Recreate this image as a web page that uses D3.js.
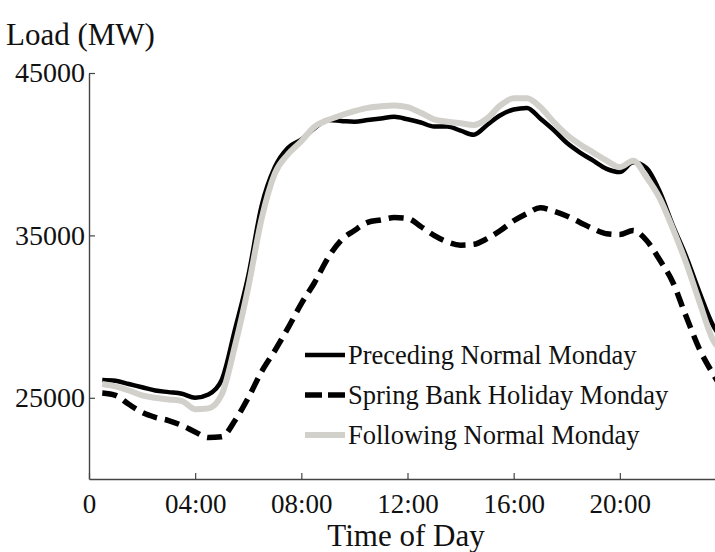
<!DOCTYPE html>
<html>
<head>
<meta charset="utf-8">
<script src="https://cdn.jsdelivr.net/npm/d3@7"></script>
<style>
  html, body { margin: 0; padding: 0; background: #fff; }
  svg { display: block; }
  text { font-family: "Liberation Serif", "Times New Roman", serif; fill: #111; }
</style>
</head>
<body>
<svg id="chart" width="715" height="552"></svg>
<script>
// Half-hourly sample times (hours after midnight)
const hours = [0.5, 1, 1.5, 2, 2.5, 3, 3.5, 4, 4.5, 5, 5.5, 6, 6.5, 7, 7.5, 8,
  8.5, 9, 9.5, 10, 10.5, 11, 11.5, 12, 12.5, 13, 13.5, 14, 14.5, 15, 15.5, 16,
  16.5, 17, 17.5, 18, 18.5, 19, 19.5, 20, 20.5, 21, 21.5, 22, 22.5, 23, 23.5, 24];

// Load (MW) per half hour
const precedingMonday = [26100, 26050, 25850, 25650, 25450, 25350, 25250, 25000,
  25200, 26100, 29200, 32500, 36800, 39200, 40400, 40900,
  41600, 42100, 42050, 42000, 42100, 42200, 42300, 42150,
  41950, 41700, 41700, 41450, 41200, 41800, 42400, 42750,
  42850, 42200, 41500, 40700, 40100, 39600, 39100, 38900,
  39500, 39150, 37700, 35600, 33700, 31500, 29500, 28300];

const holidayMonday = [25300, 25150, 24600, 24100, 23800, 23600, 23300, 22900,
  22550, 22600, 23600, 25000, 26600, 27900, 29300, 30800,
  32100, 33600, 34700, 35300, 35800, 35950, 36100, 36050,
  35550, 35000, 34600, 34400, 34450, 34800, 35300, 35900,
  36350, 36700, 36500, 36200, 35800, 35400, 35100, 35050,
  35300, 34700, 33500, 32100, 30000, 28000, 26500, 25200];

const followingMonday = [25850, 25700, 25450, 25150, 25000, 24900, 24800, 24300,
  24350, 25200, 28200, 31800, 36000, 38800, 40000, 40800,
  41700, 42100, 42400, 42650, 42850, 42950, 43000, 42900,
  42550, 42150, 42000, 41900, 41800, 42200, 43000, 43450,
  43450, 42900, 42000, 41200, 40600, 40100, 39600, 39200,
  39600, 38600, 37300, 35400, 33300, 30900, 28600, 27700];

const seriesNames = ["Preceding Normal Monday", "Spring Bank Holiday Monday", "Following Normal Monday"];
const xTickValues = [0, 4, 8, 12, 16, 20];
const xTickLabels = ["0", "04:00", "08:00", "12:00", "16:00", "20:00"];
const yTickValues = [25000, 35000, 45000];

const svg = d3.select("#chart");

const x = d3.scaleLinear().domain([0, 24]).range([89, 726]);
const y = d3.scaleLinear().domain([20000, 45000]).range([479, 73]);

const styles = [
  { color: "#000", width: 4.5, dash: null },
  { color: "#000", width: 5.5, dash: "15,8" },
  { color: "#d2d0cb", width: 6, dash: null }
];
const seriesData = [precedingMonday, holidayMonday, followingMonday];

// Axes: left and bottom only, ticks pointing inward
const axisColor = "#444";
const yAxis = d3.axisLeft(y).tickValues(yTickValues).tickSizeInner(-6).tickSizeOuter(0)
  .tickPadding(4).tickFormat(d3.format("d"));
const gy = svg.append("g").attr("transform", `translate(${x(0)},0)`).call(yAxis);
gy.select(".domain").attr("stroke", axisColor).attr("stroke-width", 1.4);
gy.selectAll(".tick line").attr("stroke", axisColor).attr("stroke-width", 1.2);
gy.selectAll(".tick text").attr("font-size", 28).attr("x", -4).attr("dy", "0.32em")
  .style("font-family", "'Liberation Serif', serif").attr("fill", "#111");

const xAxis = d3.axisBottom(x).tickValues(xTickValues).tickSizeInner(-6).tickSizeOuter(0)
  .tickFormat((d, i) => xTickLabels[i]);
const gx = svg.append("g").attr("transform", `translate(0,${y(20000)})`).call(xAxis);
gx.select(".domain").attr("stroke", axisColor).attr("stroke-width", 1.4);
gx.selectAll(".tick line").attr("stroke", axisColor).attr("stroke-width", 1.2);
gx.selectAll(".tick text").attr("font-size", 27).attr("y", 15).attr("dy", "0.71em")
  .style("font-family", "'Liberation Serif', serif").attr("fill", "#111");

// Load curves
const line = d3.line()
  .x((d, i) => x(hours[i]))
  .y(d => y(d))
  .curve(d3.curveMonotoneX);

seriesData.forEach((vals, k) => {
  svg.append("path")
    .datum(vals)
    .attr("d", line)
    .attr("fill", "none")
    .attr("stroke", styles[k].color)
    .attr("stroke-width", styles[k].width)
    .attr("stroke-dasharray", styles[k].dash)
    .attr("stroke-linejoin", "round");
});

// Legend
const legend = svg.append("g").attr("transform", "translate(305,355)");
seriesNames.forEach((name, k) => {
  const row = legend.append("g").attr("transform", `translate(0,${k * 40})`);
  row.append("line")
    .attr("x1", 0).attr("x2", 40).attr("y1", 0).attr("y2", 0)
    .attr("stroke", styles[k].color)
    .attr("stroke-width", styles[k].width)
    .attr("stroke-dasharray", k === 1 ? "17,6" : null);
  row.append("text")
    .attr("x", 43).attr("y", 0).attr("dy", "0.33em")
    .attr("font-size", 26.5)
    .text(name);
});

// Titles
svg.append("text").attr("x", 6).attr("y", 45).attr("font-size", 31).text("Load (MW)");
svg.append("text").attr("x", 406).attr("y", 546).attr("text-anchor", "middle")
  .attr("font-size", 31).text("Time of Day");
</script>
</body>
</html>
